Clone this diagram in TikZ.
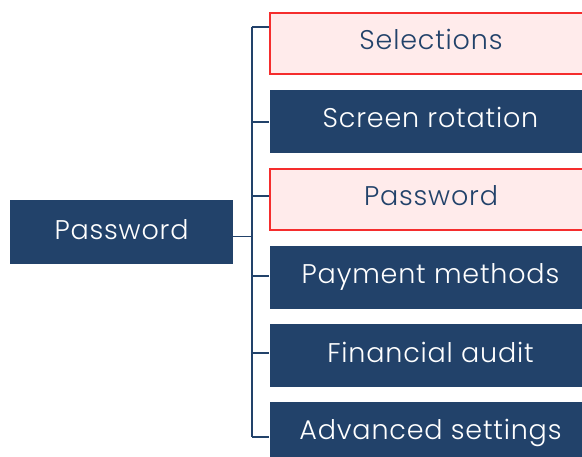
\documentclass[tikz,border=0pt]{standalone}
\usepackage{fontspec}
\setmainfont{Poppins Light}[LetterSpace=3]
\usepackage{xcolor}
\usetikzlibrary{calc}
\definecolor{navy}{HTML}{22426A}
\definecolor{alarm}{HTML}{F52D2D}
\definecolor{blush}{HTML}{FFEBEB}
\begin{document}
\begin{tikzpicture}[x=1pt,y=-1pt,
		item/.style={rectangle,inner sep=0pt,minimum width=322pt,minimum height=63pt,
			font=\fontsize{27}{31}\selectfont,text height=19pt,text depth=6pt},
		dark/.style={item,fill=navy,text=white},
		pale/.style={item,fill=blush,draw=alarm,line width=2pt,text=navy},
		link/.style={draw=navy,line width=1.8pt}]
		\useasboundingbox (0,0) rectangle (582,457);
		\clip (0,0) rectangle (582,457);
		
		\node[dark,minimum width=223pt,minimum height=64pt,text depth=3pt] (root) at (121.5,232) {Password};
		
		\node[pale,minimum height=61pt] (s1) at (431,43.5) {Selections};
		\node[dark] (s2) at (430.5,121.5) {Screen rotation};
		\node[pale,minimum height=61pt] (s3) at (431,199.5) {Password};
		\node[dark] (s4) at (430.5,277.5) {Payment methods};
		\node[dark] (s5) at (430.5,356) {Financial audit};
		\node[dark] (s6) at (430.5,433.5) {Advanced settings};
		
		\coordinate (hub) at (251.7,236.5);
		\coordinate (t1) at (251.7,26.7);
		\coordinate (t2) at (251.7,122);
		\coordinate (t3) at (251.7,196);
		\coordinate (t4) at (251.7,275.7);
		\coordinate (t5) at (251.7,352.7);
		\coordinate (t6) at (251.7,437);
		
		\draw[link] (t1) -- (t6);
		\draw[link] (root.east |- hub) -- (hub);
		\draw[link] (t1) -- (t1 -| s1.west);
		\draw[link] (t2) -- (t2 -| s2.west);
		\draw[link] (t3) -- (t3 -| s3.west);
		\draw[link] (t4) -- (t4 -| s4.west);
		\draw[link] (t5) -- (t5 -| s5.west);
		\draw[link] (t6) -- (t6 -| s6.west);
		\end{tikzpicture}
\end{document}
